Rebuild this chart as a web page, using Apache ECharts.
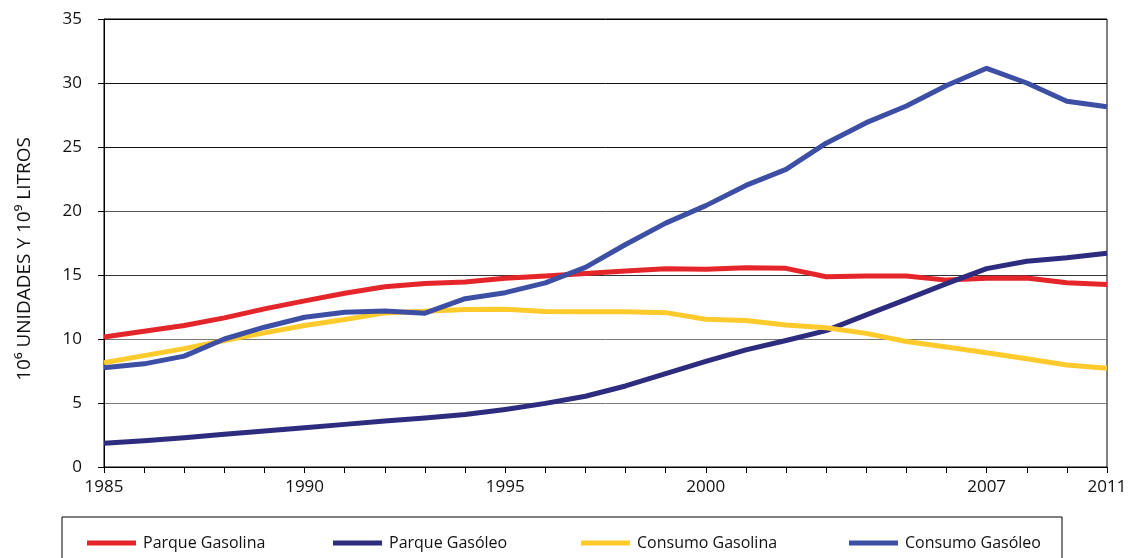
<!DOCTYPE html>
<html>
<head>
<meta charset="utf-8">
<script src="https://cdn.jsdelivr.net/npm/echarts@6/dist/echarts.min.js"></script>
<style>
  html, body { margin: 0; padding: 0; background: #fff; }
  #chart { width: 1132px; height: 558px; }
</style>
</head>
<body>
<div id="chart"></div>
<script>
// Years on the horizontal axis (the series jumps from 2009 to 2011)
const years = ['1985','1986','1987','1988','1989','1990','1991','1992','1993','1994',
               '1995','1996','1997','1998','1999','2000','2001','2002','2003','2004',
               '2005','2006','2007','2008','2009','2011'];
const labeledYears = ['1985','1990','1995','2000','2007','2011'];

// 10^6 units (vehicle fleet) and 10^9 litres (consumption)
const parqueGasolina = [10.15, 10.6, 11.05, 11.65, 12.35, 12.98, 13.58, 14.08, 14.33, 14.45,
                        14.75, 14.92, 15.12, 15.32, 15.48, 15.44, 15.56, 15.52, 14.86, 14.92,
                        14.92, 14.6, 14.74, 14.76, 14.4, 14.25];
const parqueGasoleo  = [1.85, 2.05, 2.29, 2.55, 2.81, 3.07, 3.33, 3.59, 3.82, 4.1,
                        4.5, 4.97, 5.53, 6.33, 7.3, 8.25, 9.15, 9.88, 10.65, 11.88,
                        13.1, 14.33, 15.5, 16.08, 16.35, 16.7];
const consumoGasolina = [8.14, 8.7, 9.25, 9.88, 10.48, 11.05, 11.52, 12.04, 12.17, 12.3,
                         12.32, 12.15, 12.13, 12.12, 12.06, 11.55, 11.45, 11.1, 10.88, 10.44,
                         9.8, 9.38, 8.93, 8.46, 7.97, 7.71];
const consumoGasoleo = [7.75, 8.06, 8.66, 10.0, 10.92, 11.7, 12.09, 12.19, 12.02, 13.15,
                        13.62, 14.38, 15.6, 17.38, 19.05, 20.42, 22.0, 23.25, 25.3, 26.9,
                        28.2, 29.8, 31.15, 30.0, 28.57, 28.15];

const seriesNames = ['Parque Gasolina', 'Parque Gasóleo', 'Consumo Gasolina', 'Consumo Gasóleo'];
const seriesColors = ['#e4262b', '#2e2c7f', '#ffca2b', '#3c4fa4'];
const seriesData = [parqueGasolina, parqueGasoleo, consumoGasolina, consumoGasoleo];
// left edge of each legend entry inside the framed legend box
const legendLefts = [82, 328, 576, 844];

const FONT = '"Open Sans", Lato, sans-serif';

const chart = echarts.init(document.getElementById('chart'), null, { renderer: 'canvas' });

chart.setOption({
  animation: false,
  backgroundColor: '#fff',
  textStyle: { fontFamily: FONT },
  grid: {
    left: 104, right: 25, top: 19, bottom: 91,
    show: true, borderColor: '#000', borderWidth: 1
  },
  legend: seriesNames.map((name, i) => ({
    left: legendLefts[i], top: 530,
    itemWidth: 49, itemHeight: 5,
    icon: 'rect',
    textStyle: { fontFamily: FONT, fontSize: 16, color: '#111', padding: [0, 0, 0, 2] },
    data: [name]
  })),
  graphic: [
    {
      type: 'rect',
      shape: { x: 62, y: 517, width: 1000, height: 60 },
      style: { fill: 'none', stroke: '#000', lineWidth: 1 }
    },
    {
      type: 'text',
      x: 25, y: 259,
      rotation: Math.PI / 2,
      style: {
        text: '10⁶ UNIDADES Y 10⁹ LITROS',
        fontFamily: FONT, fontSize: 19, fill: '#111',
        align: 'center', verticalAlign: 'middle'
      }
    }
  ],
  xAxis: {
    type: 'category',
    boundaryGap: false,
    data: years,
    axisLine: { lineStyle: { color: '#000', width: 1 } },
    axisTick: { show: true, interval: 0, length: 6, lineStyle: { color: '#000' } },
    axisLabel: {
      interval: (idx, val) => labeledYears.includes(val),
      margin: 12,
      fontSize: 17, color: '#111', fontFamily: FONT
    },
    splitLine: { show: false }
  },
  yAxis: {
    type: 'value',
    min: 0, max: 35, interval: 5,
    axisLine: { show: true, lineStyle: { color: '#000', width: 1 } },
    axisTick: { show: true, length: 6, lineStyle: { color: '#000' } },
    axisLabel: { margin: 22, fontSize: 17, color: '#111', fontFamily: FONT },
    splitLine: {
      show: true,
      lineStyle: { color: ['#000', '#7a7a7a', '#7a7a7a', '#333', '#555', '#111', '#111', '#000'], width: 1 }
    }
  },
  series: seriesNames.map((name, i) => ({
    name: name,
    type: 'line',
    data: seriesData[i],
    symbol: 'none',
    smooth: false,
    lineStyle: { color: seriesColors[i], width: 5, join: 'round' },
    itemStyle: { color: seriesColors[i] }
  }))
});
</script>
</body>
</html>
